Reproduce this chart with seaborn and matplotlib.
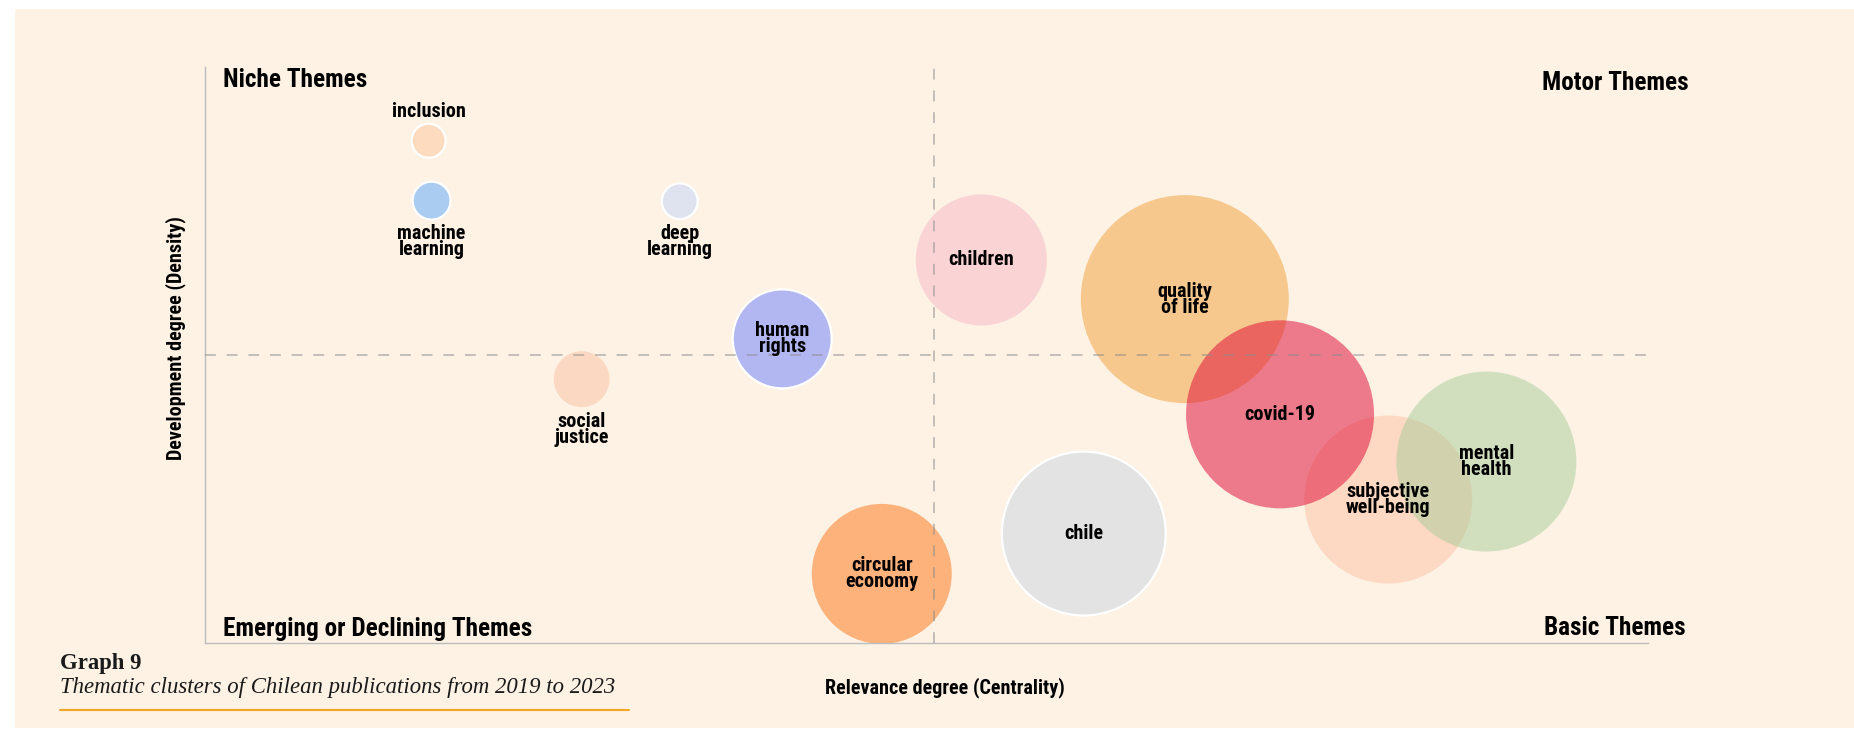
import numpy as np
import pandas as pd
import matplotlib
matplotlib.use("Agg")
import matplotlib.pyplot as plt
from matplotlib import font_manager
from matplotlib.colors import to_rgba
from matplotlib.patches import Rectangle
from matplotlib.lines import Line2D
import seaborn as sns

# thematic map: centrality (x), density (y), bubble area ~ documents
themes = ["inclusion", "machine\nlearning", "deep\nlearning", "social\njustice",
          "human\nrights", "children", "chile", "circular\neconomy",
          "quality\nof life", "subjective\nwell-being", "covid-19", "mental\nhealth"]
centrality = [1.55, 1.57, 3.29, 2.61, 4.00, 5.38, 6.09, 4.69, 6.79, 8.20, 7.45, 8.88]
density = [8.72, 7.68, 7.67, 4.58, 5.28, 6.65, 1.90, 1.20, 5.97, 2.49, 3.97, 3.15]
documents = [29, 36, 32, 78, 245, 430, 672, 490, 1082, 706, 884, 810]

median_centrality = 5.05
median_density = 5.0

quadrant_titles = ["Niche Themes", "Motor Themes", "Emerging or Declining Themes", "Basic Themes"]
x_title = "Relevance degree (Centrality)"
y_title = "Development degree (Density)"
graph_no = "Graph 9"
caption = "Thematic clusters of Chilean publications from 2019 to 2023"

# styling
base_colors = ["#FDC69C", "#59A8FF", "#C3D6FC", "#FBC0A2", "#6B7EFF", "#F9B8C8",
               "#CBD6E4", "#FD7214", "#F1A038", "#FDC0A2", "#DF0434", "#A7CE9A"]
ALPHA = 0.5
outlined = ["inclusion", "machine\nlearning", "deep\nlearning", "human\nrights", "chile"]
placement = {"inclusion": "above", "machine\nlearning": "below",
             "deep\nlearning": "below", "social\njustice": "below"}
DOC_MAX = max(documents)
AREA_MAX = 22430  # marker area (pt^2) for the largest theme

sns.set_theme(style="white")
names = {f.name for f in font_manager.fontManager.ttflist}
cond = next((n for n in ["Roboto Condensed", "Liberation Sans Narrow", "Roboto"] if n in names), "DejaVu Sans")
serif = next((n for n in ["Liberation Serif", "DejaVu Serif"] if n in names), "serif")
plt.rcParams["font.family"] = [cond, "DejaVu Sans"]

df = pd.DataFrame({"theme": themes, "centrality": centrality,
                   "density": density, "documents": documents})
palette = {t: to_rgba(c, ALPHA) for t, c in zip(themes, base_colors)}

fig = plt.figure(figsize=(18.54, 7.30), dpi=100, facecolor="white")
fig.patches.append(Rectangle((15 / 1854, 2 / 730), 1, 719 / 730,
                             transform=fig.transFigure, facecolor="#FDF2E4",
                             edgecolor="none", zorder=-5))
ax = fig.add_axes([205 / 1854, 1 - 643 / 730, 1443 / 1854, 576 / 730])
ax.set_facecolor("none")

plain = df[~df.theme.isin(outlined)]
ring = df[df.theme.isin(outlined)]
sns.scatterplot(data=plain, x="centrality", y="density", hue="theme", palette=palette,
                size="documents", sizes=(0, AREA_MAX), size_norm=(0, DOC_MAX),
                edgecolor="none", linewidth=0, legend=False, ax=ax, clip_on=False, zorder=2)
sns.scatterplot(data=ring, x="centrality", y="density", hue="theme", palette=palette,
                size="documents", sizes=(0, AREA_MAX), size_norm=(0, DOC_MAX),
                edgecolor="white", linewidth=1.6, legend=False, ax=ax, clip_on=False, zorder=2)

ax.set_xlim(0, 10)
ax.set_ylim(0, 10)
ax.set_xticks([])
ax.set_yticks([])

ax.axvline(median_centrality, color="#8C8C8C", alpha=0.55, lw=1.3, dashes=(6, 6), zorder=4)
ax.axhline(median_density, color="#8C8C8C", alpha=0.55, lw=1.3, dashes=(6, 6), zorder=4)

sns.despine(ax=ax)
for side in ["left", "bottom"]:
    ax.spines[side].set_color("#BDBDBD")
    ax.spines[side].set_linewidth(1.0)

# bubble labels
for _, row in df.iterrows():
    r_pt = np.sqrt(row.documents / DOC_MAX * AREA_MAX) / 2
    pos = placement.get(row.theme, "center")
    dy = {"above": r_pt + 9, "below": -(r_pt + 16), "center": 0}[pos]
    ax.annotate(row.theme, (row.centrality, row.density), xytext=(0, dy),
                textcoords="offset points", ha="center", va="center",
                fontsize=14.5, fontweight="bold", linespacing=0.8, color="black", zorder=6)

# quadrant titles
qkw = dict(transform=ax.transAxes, fontsize=18.2, fontweight="bold", va="center", color="black")
ax.text(0.0125, 0.977, quadrant_titles[0], ha="left", **qkw)
ax.text(1.028, 0.972, quadrant_titles[1], ha="right", **qkw)
ax.text(0.0125, 0.024, quadrant_titles[2], ha="left", **qkw)
ax.text(1.026, 0.026, quadrant_titles[3], ha="right", **qkw)

ax.set_xlabel(x_title, fontsize=14.5, fontweight="bold", color="black", va="center")
ax.set_ylabel(y_title, fontsize=14.5, fontweight="bold", color="black", va="center")
ax.xaxis.set_label_coords(0.513, -0.078)
ax.yaxis.set_label_coords(-0.0201, 0.530)

# caption block
fig.text(60 / 1854, 1 - 663 / 730, graph_no, family=serif, fontweight="bold",
         fontsize=16.4, va="center", ha="left", color="#1A1A1A")
fig.text(60 / 1854, 1 - 688 / 730, caption, family=serif, style="italic",
         fontsize=16.4, va="center", ha="left", color="#1A1A1A")
fig.lines.append(Line2D([60 / 1854, 629 / 1854], [1 - 710 / 730, 1 - 710 / 730],
                        transform=fig.transFigure, color="#F5A623", lw=1.5))

fig.savefig("out.png", dpi=100, facecolor=fig.get_facecolor())
